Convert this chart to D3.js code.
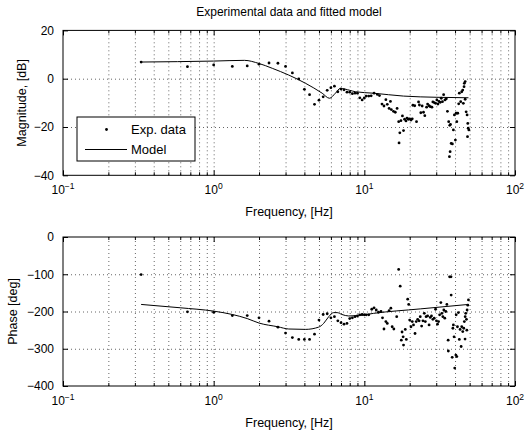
<!DOCTYPE html>
<html>
<head>
<meta charset="utf-8">
<script src="https://cdn.jsdelivr.net/npm/d3@7"></script>
<style>
  body { margin: 0; background: #fff; }
  svg { display: block; font-family: 'Liberation Sans', Arial, Helvetica, sans-serif; }
  .grid line { stroke: #666; stroke-dasharray: 1,3; }
  .grid .domain { display: none; }
  .ticks .domain { display: none; }
  .ticks line { stroke: #000; }
</style>
</head>
<body>
<div id="chart"></div>
<script>
// Measured points, magnitude [Hz, dB]
const magFreq = [0.33, 0.67, 1.0, 1.33, 1.67, 2.0, 2.33, 2.67, 3.0, 3.33, 3.67, 4.0, 4.33, 4.67, 5.0, 5.33, 5.67, 6.0, 6.33, 6.67,
  7.0, 7.33, 7.67, 8.0, 8.33, 8.67, 9.0, 9.33, 9.67, 10.0, 10.3, 10.7, 11.1, 11.6, 12.2, 12.6, 13.1, 13.5, 13.9, 14.2,
  14.6, 14.9, 15.1, 15.6, 16.05, 16.5, 16.9, 17.0, 17.2, 17.5, 17.9, 18.2, 18.5, 18.9, 19.2, 19.6, 20.0, 20.4, 20.8, 21.0,
  21.6, 22.2, 22.9, 23.2, 23.7, 24.2, 24.7, 25.2, 25.9, 26.3, 26.9, 27.4, 28.1, 28.5, 29.1, 29.7, 30.3, 30.8, 31.3, 31.9,
  32.4, 33.0, 33.6, 34.3, 35.0, 35.6, 36.3, 36.7, 36.9, 37.1, 37.3, 37.7, 38.4, 39.0, 39.6, 40.2, 40.7, 41.1, 41.7, 42.3,
  42.7, 43.6, 44.3, 45.0, 45.4, 45.9, 46.1, 46.7, 46.7, 47.4, 48.1, 48.4, 48.6, 48.9, 49.4]
const magDb = [6.9, 5.0, 5.7, 5.1, 5.3, 6.0, 6.5, 6.4, 5.1, 2.4, -0.1, -4.4, -6.6, -10.6, -8.9, -7.5, -4.8, -3.7, -3.1, -5.4,
  -4.3, -4.6, -5.6, -5.6, -6.2, -6.0, -6.0, -7.9, -8.8, -8.0, -7.2, -7.2, -7.1, -6.0, -6.5, -7.0, -10.5, -11.3, -8.7, -10.6,
  -12.3, -9.4, -12.8, -13.5, -13.9, -12.3, -17.8, -26.6, -22.4, -17.4, -15.4, -21.5, -16.8, -17.5, -16.3, -16.8, -16.6, -17.1, -16.6, -11.0,
  -11.2, -17.8, -9.6, -10.9, -14.1, -11.3, -13.9, -15.3, -11.8, -10.5, -11.2, -11.6, -11.8, -9.6, -9.9, -10.2, -8.8, -10.5, -9.4, -9.8,
  -8.1, -9.5, -6.6, -8.8, -8.3, -13.5, -17.8, -32.3, -19.3, -30.2, -18.9, -26.8, -27.0, -21.2, -15.0, -25.4, -14.3, -17.8, -14.3, -10.4,
  -6.0, -9.5, -5.4, -4.7, -10.2, -3.3, -1.9, -8.5, -1.2, -13.7, -15.0, -24.0, -18.5, -20.5, -21.2]

// Measured points, phase [Hz, deg]
const phaseFreq = [0.33, 0.67, 1.0, 1.33, 1.67, 2.0, 2.33, 2.67, 3.0, 3.33, 3.67, 4.0, 4.33, 4.67, 5.0, 5.33, 5.67, 6.0, 6.33, 6.67,
  7.0, 7.33, 7.67, 8.0, 8.33, 8.67, 9.0, 9.33, 9.67, 10.0, 10.3, 10.7, 11.2, 11.6, 12.0, 12.4, 12.9, 13.2, 13.5, 13.9,
  14.2, 14.6, 15.0, 15.3, 15.7, 16.4, 16.9, 17.3, 17.6, 17.8, 18.1, 18.2, 18.7, 19.0, 19.4, 19.7, 20.0, 20.4, 20.8, 21.2,
  21.7, 22.1, 22.6, 23.1, 23.5, 24.0, 24.5, 25.0, 25.4, 25.7, 26.3, 26.9, 27.4, 27.9, 28.5, 29.1, 29.7, 30.1, 30.6, 31.1,
  31.6, 32.2, 32.7, 33.2, 33.7, 34.2, 34.7, 35.3, 36.0, 36.1, 36.8, 37.6, 37.7, 38.3, 38.7, 39.0, 39.4, 39.8, 40.5, 40.7,
  41.1, 41.5, 42.1, 42.7, 43.2, 43.9, 44.3, 45.0, 45.7, 46.1, 46.6, 46.7, 47.1, 47.6, 47.9, 48.1, 48.6, 49.1]
const phaseDeg = [-101, -201, -202, -211, -211, -217, -226, -242, -258, -270, -275, -275, -275, -261, -223, -208, -206, -217, -214, -225,
  -230, -234, -232, -219, -217, -214, -212, -209, -208, -209, -209, -209, -194, -190, -196, -202, -200, -217, -247, -227,
  -232, -198, -191, -241, -247, -214, -87, -132, -277, -255, -268, -290, -248, -275, -167, -181, -223, -241, -227, -236,
  -259, -227, -221, -225, -214, -239, -225, -205, -227, -214, -212, -236, -216, -212, -221, -218, -194, -225, -234, -227,
  -209, -176, -205, -214, -196, -218, -200, -181, -277, -306, -107, -107, -156, -323, -245, -236, -268, -352, -317, -209,
  -321, -241, -203, -275, -248, -294, -241, -254, -245, -227, -274, -214, -205, -221, -250, -196, -183, -169]

// Fitted model
const modelMagFreq = [0.33, 1.0, 1.6, 2.0, 2.45, 3.15, 4.07, 5.25, 5.87, 6.43, 6.93, 8.0, 8.72, 11.5, 18.2, 30.3, 49.1]
const modelMagDb = [6.9, 7.3, 7.6, 6.3, 4.3, 1.5, -1.9, -6.0, -8.1, -6.0, -4.0, -4.8, -5.4, -6.0, -7.2, -7.7, -7.9]
const modelPhaseFreq = [0.33, 0.6, 1.0, 1.33, 1.67, 2.0, 2.67, 3.15, 4.07, 4.97, 5.37, 5.8, 6.26, 6.6, 7.1, 7.87, 9.14, 11.5, 23.5, 49.1]
const modelPhaseDeg = [-181, -190, -199, -208, -219, -231, -241, -247, -248, -242, -232, -214, -203, -203, -208, -212, -211, -205, -193, -181]

const xMajor = [0.1, 1, 10, 100]
const xExp = ['\u22121', '0', '1', '2']
const magTicks = [-40, -20, 0, 20]
const phaseTicks = [-400, -300, -200, -100, 0]

const width = 525,
  height = 431,
  left = 63,
  right = 515

const xMinor = []
;[0.1, 1, 10].forEach(d => {
  for (let m = 2; m <= 9; m++) xMinor.push(d * m)
})

const x = d3
  .scaleLog()
  .domain([0.1, 100])
  .range([left, right])

const svg = d3
  .select('#chart')
  .append('svg')
  .attr('width', width)
  .attr('height', height)

svg
  .append('text')
  .attr('x', (left + right) / 2)
  .attr('y', 16)
  .attr('text-anchor', 'middle')
  .style('font-size', '12px')
  .text('Experimental data and fitted model')

function panel(top, bottom, domain, ticks, label, labelX, freq, vals, mFreq, mVals) {
  const y = d3
    .scaleLinear()
    .domain(domain)
    .range([bottom, top])
  const h = bottom - top
  const g = svg.append('g')

  // grid
  g.append('g')
    .attr('class', 'grid')
    .attr('transform', 'translate(0,' + bottom + ')')
    .call(d3.axisBottom(x).tickValues(xMinor.concat([1, 10])).tickSize(-h).tickFormat(''))
  g.append('g')
    .attr('class', 'grid')
    .attr('transform', 'translate(' + left + ',0)')
    .call(d3.axisLeft(y).tickValues(ticks.slice(1, -1)).tickSize(-(right - left)).tickFormat(''))

  // model
  const line = d3
    .line()
    .x((d, i) => x(mFreq[i]))
    .y(d => y(d))
    .curve(d3.curveMonotoneX)
  g.append('path')
    .datum(mVals)
    .attr('fill', 'none')
    .attr('stroke', '#000')
    .attr('stroke-width', 1)
    .attr('d', line)

  // data
  g.selectAll('circle')
    .data(vals)
    .enter()
    .append('circle')
    .attr('cx', (d, i) => x(freq[i]))
    .attr('cy', d => y(d))
    .attr('r', 1.4)
    .attr('fill', '#000')

  // ticks, all four sides, pointing inward
  const tick = (axis, tr) =>
    g.append('g').attr('class', 'ticks').attr('transform', tr).call(axis)
  tick(d3.axisBottom(x).tickValues(xMajor).tickSize(-5).tickFormat(''), 'translate(0,' + bottom + ')')
  tick(d3.axisBottom(x).tickValues(xMinor).tickSize(-3).tickFormat(''), 'translate(0,' + bottom + ')')
  tick(d3.axisTop(x).tickValues(xMajor).tickSize(-5).tickFormat(''), 'translate(0,' + top + ')')
  tick(d3.axisTop(x).tickValues(xMinor).tickSize(-3).tickFormat(''), 'translate(0,' + top + ')')
  tick(d3.axisRight(y).tickValues(ticks).tickSize(-5).tickFormat(''), 'translate(' + right + ',0)')
  const yAxis = tick(
    d3.axisLeft(y).tickValues(ticks).tickSize(-5).tickPadding(9).tickFormat(d3.format('d')),
    'translate(' + left + ',0)'
  )
  yAxis
    .selectAll('text')
    .attr('font-family', null)
    .style('font-size', '12px')
    .attr('fill', '#000')
  yAxis.attr('font-family', null).attr('font-size', null)

  g.append('rect')
    .attr('x', left)
    .attr('y', top)
    .attr('width', right - left)
    .attr('height', h)
    .attr('fill', 'none')
    .attr('stroke', '#000')

  // x tick labels 10^n
  const xl = g
    .selectAll('.xlab')
    .data(xMajor)
    .enter()
    .append('text')
    .attr('class', 'xlab')
    .attr('x', d => x(d))
    .attr('y', bottom + 19)
    .attr('text-anchor', 'middle')
    .style('font-size', '12px')
  xl.append('tspan').text('10')
  xl.append('tspan')
    .attr('dy', -5)
    .style('font-size', '8.5px')
    .text((d, i) => xExp[i])

  g.append('text')
    .attr('x', (left + right) / 2)
    .attr('y', bottom + 41)
    .attr('text-anchor', 'middle')
    .style('font-size', '12.5px')
    .text('Frequency, [Hz]')

  g.append('text')
    .attr('transform', 'translate(' + labelX + ',' + (top + bottom) / 2 + ') rotate(-90)')
    .attr('text-anchor', 'middle')
    .style('font-size', '12.5px')
    .text(label)

  return g
}

const top1 = panel(30.4, 175.3, [-40, 20], magTicks, 'Magnitude, [dB]', 26,
  magFreq, magDb, modelMagFreq, modelMagDb)
panel(237, 386, [-400, 0], phaseTicks, 'Phase [deg]', 17,
  phaseFreq, phaseDeg, modelPhaseFreq, modelPhaseDeg)

// legend
const legend = top1.append('g')
legend
  .append('rect')
  .attr('x', 77)
  .attr('y', 117)
  .attr('width', 118)
  .attr('height', 44)
  .attr('fill', '#fff')
  .attr('stroke', '#000')
legend
  .append('circle')
  .attr('cx', 106.5)
  .attr('cy', 129.5)
  .attr('r', 1.4)
  .attr('fill', '#000')
legend
  .append('line')
  .attr('x1', 85)
  .attr('x2', 127)
  .attr('y1', 149.5)
  .attr('y2', 149.5)
  .attr('stroke', '#000')
legend
  .selectAll('.lt')
  .data(['Exp. data', 'Model'])
  .enter()
  .append('text')
  .attr('x', 131)
  .attr('y', (d, i) => 134 + i * 20)
  .style('font-size', '13px')
  .text(d => d)
</script>
</body>
</html>
